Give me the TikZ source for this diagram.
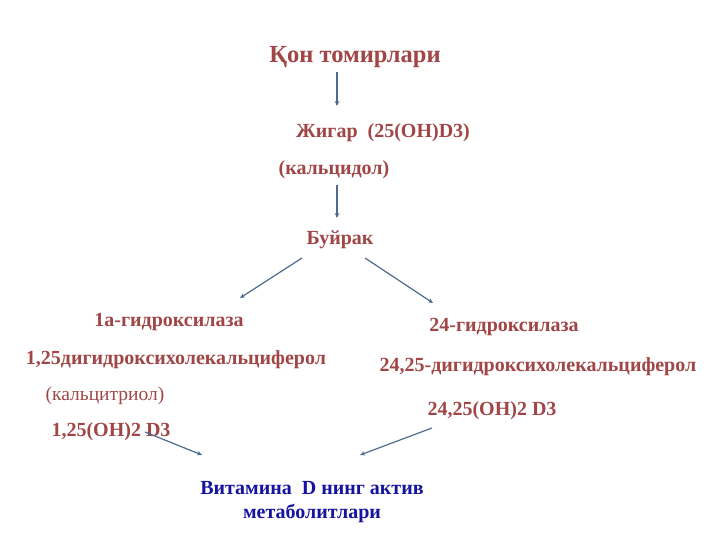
\documentclass[tikz,border=0pt]{standalone}
\usepackage{fontspec}
\setmainfont{Liberation Serif}
\usetikzlibrary{arrows.meta}
\definecolor{tred}{HTML}{A04646}
\definecolor{tblue}{HTML}{14149E}
\definecolor{tarrow}{HTML}{4E6A8C}
\begin{document}
\begin{tikzpicture}[x=1pt,y=-1pt,
  lbl/.style={text=tred,font=\bfseries\fontsize{20}{22}\selectfont,inner sep=0pt},
  arr/.style={draw=tarrow,line width=1.2pt,-{Stealth[length=5pt,width=4.5pt]}}]
\useasboundingbox (0,0) rectangle (720,540);
\node[lbl,font=\bfseries\fontsize{24.5}{26}\selectfont] (qon) at (355,57) {Қон томирлари};
\node[lbl] (jigar) at (383,133) {Жигар\ \ (25(OH)D3)};
\node[lbl] (kalts) at (334,170) {(кальцидол)};
\node[lbl] (buyr) at (340,240) {Буйрак};
\node[lbl] (h1a) at (169,322) {1a-гидроксилаза};
\node[lbl] (h24) at (504,327) {24-гидроксилаза};
\node[lbl] (d125) at (176,360) {1,25дигидроксихолекальциферол};
\node[lbl] (d2425) at (538,367) {24,25-дигидроксихолекальциферол};
\node[lbl,font=\fontsize{19.5}{22}\selectfont] (kaltr) at (105,396) {(кальцитриол)};
\node[lbl] (oh2425) at (492,411) {24,25(OH)2 D3};
\node[lbl] (oh125) at (111,432) {1,25(OH)2 D3};
\node[lbl,text=tblue,align=center,font=\bfseries\fontsize{20}{24}\selectfont] (vit) at (312,502) {Витамина\ \ D нинг актив\\метаболитлари};
\coordinate (a1s) at (337,72); \coordinate (a1e) at (337,106);
\coordinate (a2s) at (337,185); \coordinate (a2e) at (337,218);
\coordinate (a3s) at (302,258); \coordinate (a3e) at (240,298);
\coordinate (a4s) at (365,258); \coordinate (a4e) at (433,303);
\coordinate (a5s) at (145,432); \coordinate (a5e) at (202,455);
\coordinate (a6s) at (432,428); \coordinate (a6e) at (360,455);
\draw[arr] (a1s) -- (a1e);
\draw[arr] (a2s) -- (a2e);
\draw[arr] (a3s) -- (a3e);
\draw[arr] (a4s) -- (a4e);
\draw[arr] (a5s) -- (a5e);
\draw[arr] (a6s) -- (a6e);
\end{tikzpicture}
\end{document}
